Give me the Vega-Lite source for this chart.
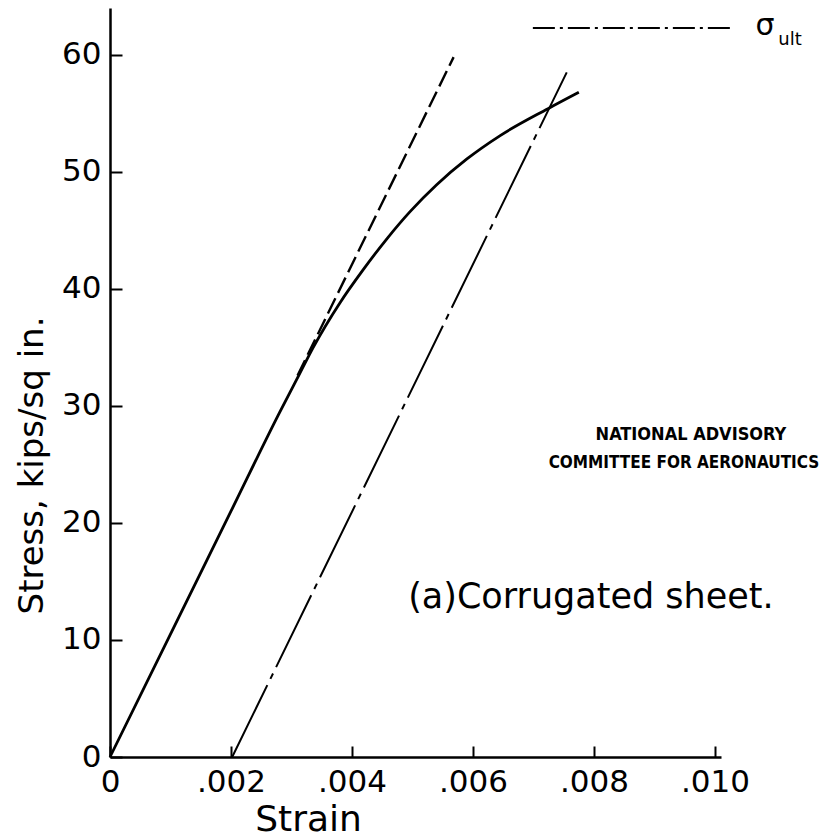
{
  "$schema": "https://vega.github.io/schema/vega-lite/v6.json",
  "width": 611,
  "height": 749,
  "autosize": {"type": "none"},
  "padding": {"left": 110, "top": 8, "right": 117, "bottom": 83},
  "background": "white",
  "config": {"view": {"stroke": null}, "font": "DejaVu Sans"},
  "datasets": {
    "curves": [
      {"series": "curve", "strain": 0, "stress": 0},
      {"series": "curve", "strain": 0.001, "stress": 10.5},
      {"series": "curve", "strain": 0.002, "stress": 21.0},
      {"series": "curve", "strain": 0.0028, "stress": 29.4},
      {"series": "curve", "strain": 0.00314, "stress": 32.8},
      {"series": "curve", "strain": 0.00336, "stress": 35.0},
      {"series": "curve", "strain": 0.0038, "stress": 38.8},
      {"series": "curve", "strain": 0.00418, "stress": 41.6},
      {"series": "curve", "strain": 0.00458, "stress": 44.3},
      {"series": "curve", "strain": 0.00496, "stress": 46.6},
      {"series": "curve", "strain": 0.0054, "stress": 48.9},
      {"series": "curve", "strain": 0.0059, "stress": 51.1},
      {"series": "curve", "strain": 0.00645, "stress": 53.1},
      {"series": "curve", "strain": 0.00724, "stress": 55.4},
      {"series": "curve", "strain": 0.00775, "stress": 56.8},
      {"series": "tangent", "strain": 0.0031, "stress": 32.6},
      {"series": "tangent", "strain": 0.00568, "stress": 59.8},
      {"series": "offset", "strain": 0.00202, "stress": 0},
      {"series": "offset", "strain": 0.00755, "stress": 58.5}
    ],
    "one": [{"id": 1}]
  },
  "layer": [
    {
      "data": {"name": "curves"},
      "transform": [{"filter": "datum.series == 'curve'"}],
      "mark": {"type": "line", "color": "black", "strokeWidth": 2.8, "interpolate": "monotone"},
      "encoding": {
        "x": {
          "field": "strain", "type": "quantitative",
          "scale": {"domain": [0, 0.0101], "nice": false, "zero": false},
          "axis": {
            "title": "Strain",
            "values": [0, 0.002, 0.004, 0.006, 0.008, 0.01],
            "labelExpr": "datum.value == 0 ? '0' : replace(format(datum.value, '.3f'), '0.', '.')",
            "grid": false,
            "tickSize": -11, "tickWidth": 2, "tickColor": "black",
            "domainColor": "black", "domainWidth": 2.5,
            "labelFont": "DejaVu Sans", "labelFontSize": 31, "labelColor": "black",
            "labelPadding": 21, "labelFlush": false, "labelOverlap": false,
            "titleFont": "DejaVu Sans", "titleFontWeight": "normal", "titleFontSize": 36, "titleColor": "black",
            "titleX": 198, "titleY": 62, "titleAlign": "center", "titleBaseline": "middle"
          }
        },
        "y": {
          "field": "stress", "type": "quantitative",
          "scale": {"domain": [0, 64], "nice": false, "zero": false},
          "axis": {
            "title": "Stress, kips/sq in.",
            "values": [0, 10, 20, 30, 40, 50, 60],
            "format": "d",
            "grid": false,
            "tickSize": -12, "tickWidth": 2, "tickColor": "black",
            "domainColor": "black", "domainWidth": 2.5,
            "labelFont": "DejaVu Sans", "labelFontSize": 31, "labelColor": "black",
            "labelPadding": 21, "labelFlush": false, "labelOverlap": false,
            "titleFont": "DejaVu Sans", "titleFontWeight": "normal", "titleFontSize": 34, "titleColor": "black",
            "titleAngle": -90, "titleX": -78, "titleY": 457, "titleAlign": "center", "titleBaseline": "middle"
          }
        }
      }
    },
    {
      "data": {"name": "curves"},
      "transform": [{"filter": "datum.series == 'tangent'"}],
      "mark": {"type": "line", "color": "black", "strokeWidth": 2.4, "strokeDash": [17, 6]},
      "encoding": {
        "x": {"field": "strain", "type": "quantitative"},
        "y": {"field": "stress", "type": "quantitative"}
      }
    },
    {
      "data": {"name": "curves"},
      "transform": [{"filter": "datum.series == 'offset'"}],
      "mark": {"type": "line", "color": "black", "strokeWidth": 2, "strokeDash": [80, 7, 6, 7]},
      "encoding": {
        "x": {"field": "strain", "type": "quantitative"},
        "y": {"field": "stress", "type": "quantitative"}
      }
    },
    {
      "data": {"name": "one"},
      "mark": {"type": "rule", "color": "black", "strokeWidth": 2, "strokeDash": [22, 5, 3, 5]},
      "encoding": {
        "x": {"datum": 0.00699, "type": "quantitative"},
        "x2": {"datum": 0.0103},
        "y": {"datum": 62.3, "type": "quantitative"}
      }
    },
    {
      "data": {"name": "one"},
      "mark": {"type": "text", "text": "σ", "font": "DejaVu Sans", "fontSize": 30, "align": "center", "baseline": "middle", "color": "black"},
      "encoding": {
        "x": {"datum": 0.010826, "type": "quantitative"},
        "y": {"datum": 62.5, "type": "quantitative"}
      }
    },
    {
      "data": {"name": "one"},
      "mark": {"type": "text", "text": "ult", "font": "DejaVu Sans", "fontSize": 18, "align": "center", "baseline": "middle", "color": "black"},
      "encoding": {
        "x": {"datum": 0.01124, "type": "quantitative"},
        "y": {"datum": 61.3, "type": "quantitative"}
      }
    },
    {
      "data": {"name": "one"},
      "mark": {"type": "text", "text": "NATIONAL ADVISORY", "font": "DejaVu Sans Condensed, DejaVu Sans", "fontWeight": "bold", "fontSize": 18, "align": "center", "baseline": "middle", "color": "black"},
      "encoding": {
        "x": {"datum": 0.009603, "type": "quantitative"},
        "y": {"datum": 27.52, "type": "quantitative"}
      }
    },
    {
      "data": {"name": "one"},
      "mark": {"type": "text", "text": "COMMITTEE FOR AERONAUTICS", "font": "DejaVu Sans Condensed, DejaVu Sans", "fontWeight": "bold", "fontSize": 17, "align": "center", "baseline": "middle", "color": "black"},
      "encoding": {
        "x": {"datum": 0.009488, "type": "quantitative"},
        "y": {"datum": 25.13, "type": "quantitative"}
      }
    },
    {
      "data": {"name": "one"},
      "mark": {"type": "text", "text": "(a)Corrugated sheet.", "font": "DejaVu Sans", "fontSize": 35, "align": "center", "baseline": "middle", "color": "black"},
      "encoding": {
        "x": {"datum": 0.00795, "type": "quantitative"},
        "y": {"datum": 13.68, "type": "quantitative"}
      }
    }
  ]
}
